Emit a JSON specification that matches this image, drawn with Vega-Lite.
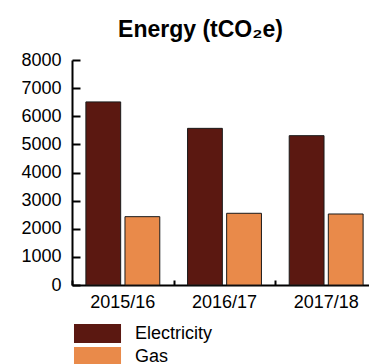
{
  "$schema": "https://vega.github.io/schema/vega-lite/v6.json",
  "autosize": {"type": "none"},
  "padding": {"left": 72, "top": 60, "right": 0, "bottom": 79},
  "width": 297,
  "height": 225,
  "background": "white",
  "title": {
    "text": "Energy (tCO₂e)",
    "font": "Liberation Sans",
    "fontSize": 23,
    "fontWeight": "bold",
    "color": "black",
    "anchor": "middle",
    "dx": -20,
    "offset": 9
  },
  "data": {
    "values": [
      {"year": "2015/16", "source": "Electricity", "value": 6510},
      {"year": "2015/16", "source": "Gas", "value": 2430},
      {"year": "2016/17", "source": "Electricity", "value": 5570},
      {"year": "2016/17", "source": "Gas", "value": 2550},
      {"year": "2017/18", "source": "Electricity", "value": 5310},
      {"year": "2017/18", "source": "Gas", "value": 2525}
    ]
  },
  "resolve": {"axis": {"x": "independent", "y": "independent"}},
  "layer": [
    {
      "mark": {"type": "bar", "stroke": "#1a1a1a", "strokeWidth": 1},
      "encoding": {
        "x": {
          "field": "year",
          "type": "nominal",
          "sort": ["2015/16", "2016/17", "2017/18"],
          "scale": {"range": [0, 305], "paddingInner": 0, "paddingOuter": 0},
          "axis": {
            "orient": "bottom",
            "title": null,
            "labelAngle": 0,
            "labelFont": "Liberation Sans",
            "labelFontSize": 18,
            "labelColor": "black",
            "ticks": false,
            "domainColor": "black",
            "domainWidth": 2,
            "labelPadding": 8
          }
        },
        "xOffset": {
          "field": "source",
          "type": "nominal",
          "scale": {"paddingInner": 0.11, "paddingOuter": 0.355}
        },
        "y": {
          "field": "value",
          "type": "quantitative",
          "scale": {"domain": [0, 8000]},
          "axis": {
            "orient": "left",
            "title": null,
            "values": [0, 1000, 2000, 3000, 4000, 5000, 6000, 7000, 8000],
            "format": "d",
            "grid": false,
            "labelFont": "Liberation Sans",
            "labelFontSize": 18,
            "labelColor": "black",
            "ticks": false,
            "domainColor": "black",
            "domainWidth": 2,
            "labelPadding": 11
          }
        },
        "color": {
          "field": "source",
          "type": "nominal",
          "scale": {"domain": ["Electricity", "Gas"], "range": ["#5B1811", "#E98A4A"]},
          "legend": {
            "title": null,
            "orient": "bottom",
            "direction": "vertical",
            "symbolType": "M-0.79,-0.99H4.16V0.99H-0.79Z",
            "symbolSize": 361,
            "symbolStrokeWidth": 0,
            "labelFont": "Liberation Sans",
            "labelFontSize": 18,
            "labelColor": "black",
            "labelOffset": 44,
            "rowPadding": 4,
            "offset": 13
          }
        }
      }
    },
    {
      "mark": {"type": "bar", "opacity": 0},
      "encoding": {
        "x": {
          "field": "year",
          "type": "nominal",
          "sort": ["2015/16", "2016/17", "2017/18"],
          "axis": {
            "orient": "bottom",
            "title": null,
            "labels": false,
            "domain": false,
            "tickBand": "extent",
            "tickSize": 5,
            "tickWidth": 2,
            "tickColor": "black",
            "offset": -5
          }
        },
        "xOffset": {"field": "source", "type": "nominal"},
        "y": {
          "field": "value",
          "type": "quantitative",
          "axis": {
            "orient": "left",
            "title": null,
            "values": [0, 1000, 2000, 3000, 4000, 5000, 6000, 7000, 8000],
            "grid": false,
            "labels": false,
            "domain": false,
            "tickSize": 8,
            "tickWidth": 2,
            "tickColor": "black",
            "offset": -8
          }
        }
      }
    }
  ],
  "config": {"view": {"stroke": null}}
}
